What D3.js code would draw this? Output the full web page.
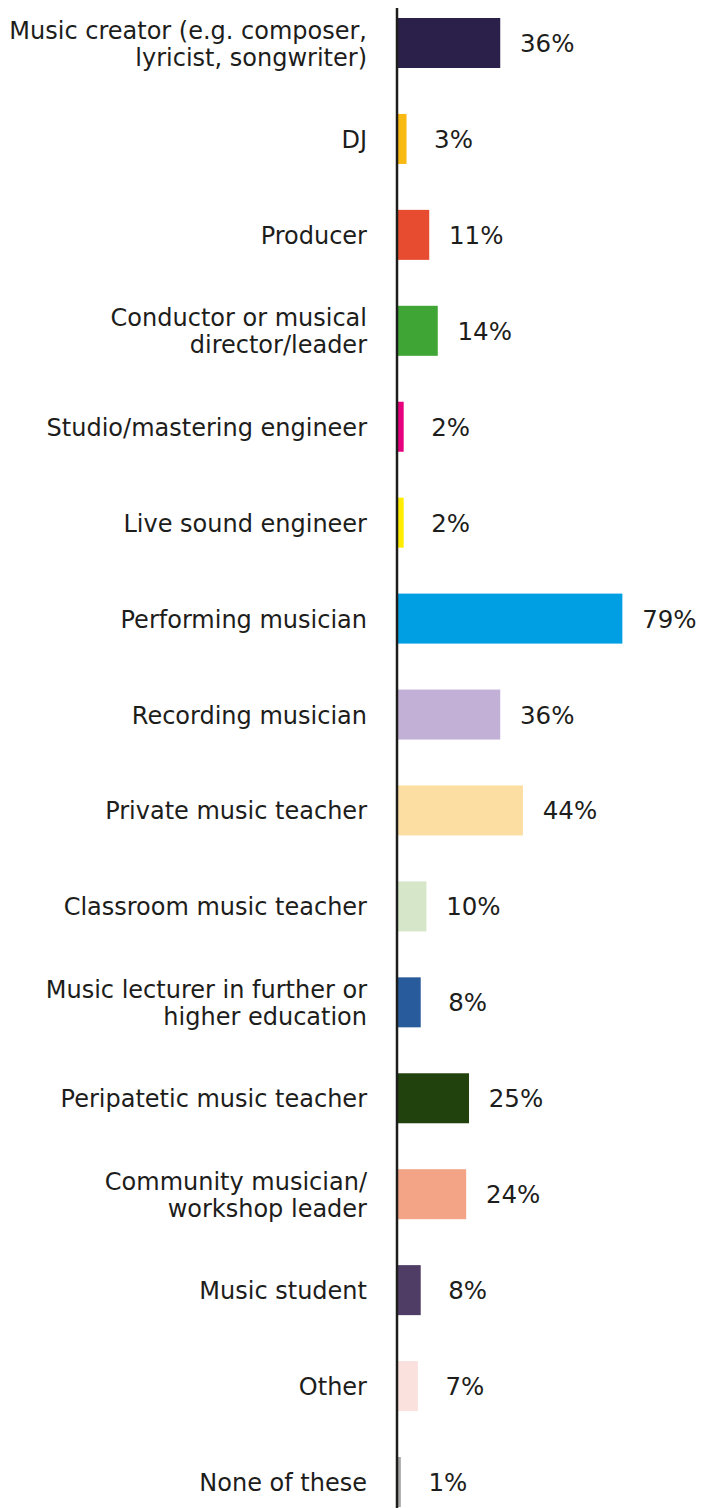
<!DOCTYPE html>
<html><head><meta charset="utf-8">
<script src="https://cdn.jsdelivr.net/npm/d3@7"></script>
<style>html,body{margin:0;padding:0;background:#fff;}svg{display:block;}</style>
</head><body>
<div id="chart"></div>
<script>
const categories = [
  ["Music creator (e.g. composer,", "lyricist, songwriter)"],
  ["DJ"],
  ["Producer"],
  ["Conductor or musical", "director/leader"],
  ["Studio/mastering engineer"],
  ["Live sound engineer"],
  ["Performing musician"],
  ["Recording musician"],
  ["Private music teacher"],
  ["Classroom music teacher"],
  ["Music lecturer in further or", "higher education"],
  ["Peripatetic music teacher"],
  ["Community musician/", "workshop leader"],
  ["Music student"],
  ["Other"],
  ["None of these"]
];
const values = [36, 3, 11, 14, 2, 2, 79, 36, 44, 10, 8, 25, 24, 8, 7, 1];
const valueLabels = ["36%","3%","11%","14%","2%","2%","79%","36%","44%","10%","8%","25%","24%","8%","7%","1%"];
const colors = ["#2b2049","#f7b912","#e84c30","#3fa535","#e6007e","#ffed00","#009fe3","#c3b0d6",
                "#fddea2","#d5e7c8","#285b9b","#22420d","#f3a486","#4f3d66","#fbe1de","#a6a6a6"];

const W = 710, H = 1508;
const FONT = "'DejaVu Sans', sans-serif";
const svg = d3.select("#chart").append("svg").attr("width", W).attr("height", H);

const keys = categories.map(c => c.join(" "));
const data = keys.map((k, i) => ({key: k, lines: categories[i], value: values[i], label: valueLabels[i], color: colors[i]}));

const x = d3.scaleLinear().domain([0, 100]).range([398, 682]);
const y = d3.scalePoint().domain(keys).range([43, 1482]);
const barH = 50;

svg.selectAll("rect.bar").data(data).join("rect")
  .attr("class","bar")
  .attr("x", x(0))
  .attr("y", d => y(d.key) - barH/2)
  .attr("width", d => x(d.value) - x(0))
  .attr("height", barH)
  .attr("fill", d => d.color);

// axis line
svg.append("line").attr("x1", 397).attr("x2", 397).attr("y1", 8).attr("y2", H)
  .attr("stroke", "#1d1d1b").attr("stroke-width", 2.5);

// category labels
const lab = svg.selectAll("text.cat").data(data).join("text")
  .attr("class","cat")
  .attr("text-anchor","end")
  .attr("font-family", FONT).attr("font-size", 24).attr("fill", "#1d1d1b");
lab.each(function(d){
  const t = d3.select(this);
  const n = d.lines.length;
  d.lines.forEach((line, j) => {
    t.append("tspan").attr("x", 367)
      .attr("y", y(d.key) + 9 + (j - (n-1)/2) * 27)
      .text(line);
  });
});

// value labels
svg.selectAll("text.val").data(data).join("text")
  .attr("class","val")
  .attr("text-anchor","middle")
  .attr("x", d => x(d.value) + 47)
  .attr("y", d => y(d.key) + 9)
  .attr("font-family", FONT).attr("font-size", 24.5).attr("fill", "#1d1d1b")
  .text(d => d.label);
</script>
</body></html>
